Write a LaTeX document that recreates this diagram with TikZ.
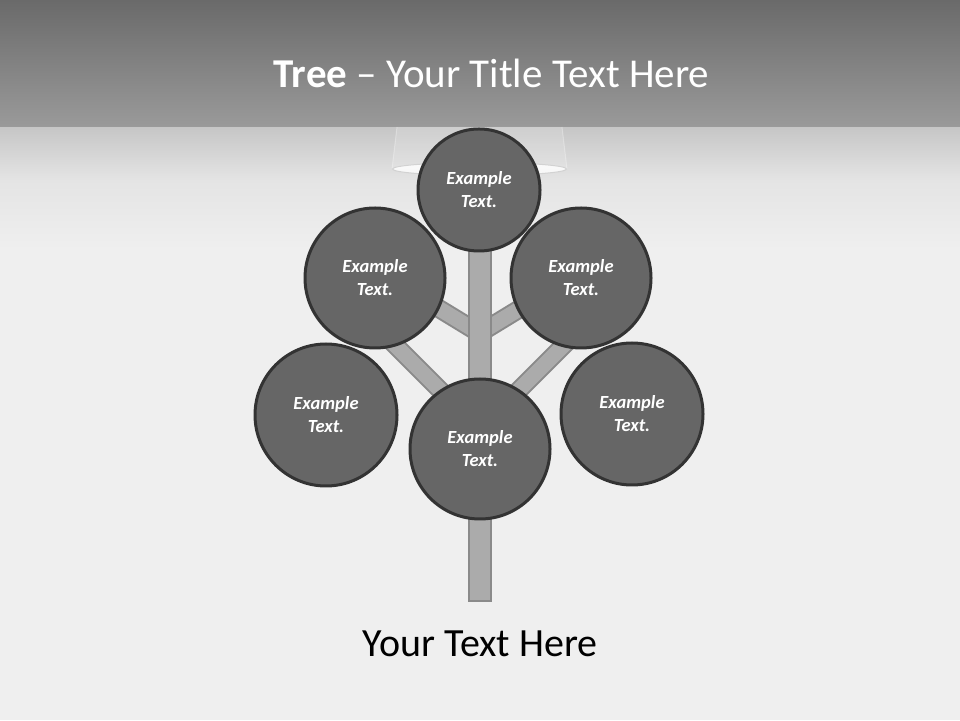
\documentclass[tikz,border=0pt]{standalone}
\usepackage{fontspec}
\setmainfont{Carlito}
\definecolor{circfill}{HTML}{666666}
\definecolor{circline}{HTML}{333333}
\definecolor{barfill}{HTML}{ABABAB}
\definecolor{barline}{HTML}{8A8A8A}
\definecolor{bandtop}{HTML}{6A6A6A}
\definecolor{bandbot}{HTML}{9A9A9A}
\definecolor{bgtop}{HTML}{C6C6C6}
\definecolor{bgmid}{HTML}{E4E4E4}
\definecolor{bglow}{HTML}{EFEFEF}
\tikzset{
  leaf/.style={circle, fill=circfill, draw=circline, line width=3pt, inner sep=0pt,
    text=white, align=center, font=\fontsize{18.5}{23}\selectfont\bfseries\itshape},
  barout/.style={line width=19pt, draw=barline},
  barin/.style={line width=15pt, draw=barfill},
}
\begin{document}
\begin{tikzpicture}[x=1pt,y=1pt]
\useasboundingbox (0,0) rectangle (960,720);
% background
\fill[bglow] (0,0) rectangle (960,471);
\shade[top color=bgmid, bottom color=bglow] (0,470) rectangle (960,541);
\shade[top color=bgtop, bottom color=bgmid] (0,540) rectangle (960,593);
\shade[top color=bandtop, bottom color=bandbot] (0,593) rectangle (960,720);
% lamp
\fill[white, opacity=0.15] (397,593) -- (562,593) -- (567,551) -- (392,551) -- cycle;
\draw[white, opacity=0.3, line width=1pt] (397,593) -- (392,551);
\draw[white, opacity=0.3, line width=1pt] (562,593) -- (567,551);
\filldraw[fill=white, fill opacity=0.8, draw=gray!35, line width=1pt] (479.5,551) ellipse [x radius=87, y radius=6.5];
% coordinates for branches
\coordinate (llA) at (385,385); \coordinate (llB) at (470,300);
\coordinate (ulA) at (420,423); \coordinate (ulB) at (479,387);
\coordinate (urA) at (539,423); \coordinate (urB) at (480,387);
\coordinate (lrA) at (574,385); \coordinate (lrB) at (489,300);
% branches
\foreach \a/\b in {llA/llB, ulA/ulB, urA/urB, lrA/lrB}{
  \draw[barout] (\a) -- (\b);
  \draw[barin] (\a) -- (\b);
}
% trunk
\node (trunk) [draw=barline, fill=barfill, line width=2pt, minimum width=22pt, minimum height=350pt, inner sep=0pt] at (479.5,294.5) {};
% leaves
\node (top) [leaf, minimum size=122pt] at (479,530) {Example\\Text.};
\node (ul) [leaf, minimum size=140pt] at (375,442) {Example\\Text.};
\node (ur) [leaf, minimum size=140pt] at (581,442) {Example\\Text.};
\node (l) [leaf, minimum size=142pt] at (326,305) {Example\\Text.};
\node (c) [leaf, minimum size=140pt] at (480,271) {Example\\Text.};
\node (r) [leaf, minimum size=142pt] at (632,306) {Example\\Text.};
% texts
\node (title) [anchor=base, text=white, font=\fontsize{41}{49}\selectfont, inner sep=0pt] at (491.5,632) {\textbf{Tree} – Your Title Text Here};
\node (bottom) [anchor=base, text=black, font=\fontsize{40}{48}\selectfont, inner sep=0pt] at (480,64) {Your Text Here};
\end{tikzpicture}
\end{document}
